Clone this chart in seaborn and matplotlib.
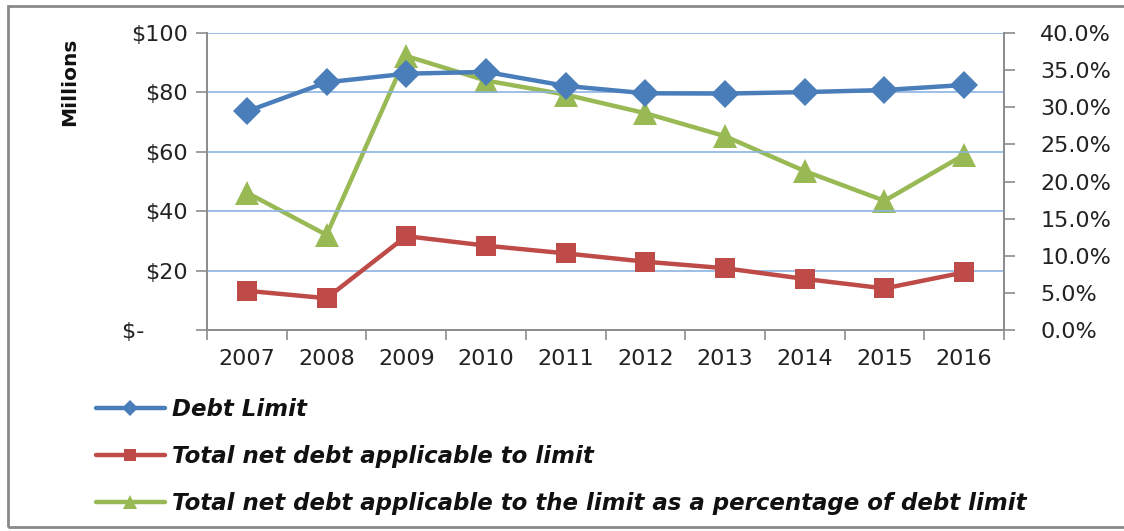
import matplotlib
matplotlib.use("Agg")
import matplotlib.pyplot as plt
import seaborn as sns
import pandas as pd
import numpy as np
from matplotlib.patches import Rectangle
from matplotlib.ticker import FixedLocator, FuncFormatter

years = ["2007", "2008", "2009", "2010", "2011", "2012", "2013", "2014", "2015", "2016"]
debt_limit = [73.6, 83.4, 86.3, 86.9, 82.2, 79.7, 79.6, 80.1, 80.8, 82.5]
net_debt = [13.2, 10.7, 31.6, 28.4, 25.8, 23.0, 20.8, 17.2, 14.0, 19.4]
pct_of_limit = [18.5, 12.8, 36.9, 33.6, 31.7, 29.2, 26.1, 21.4, 17.4, 23.6]

left_ticks = [0, 20, 40, 60, 80, 100]
left_labels = ["$-      ", "$20", "$40", "$60", "$80", "$100"]
right_ticks = [0, 5, 10, 15, 20, 25, 30, 35, 40]

labels = ["Debt Limit",
          "Total net debt applicable to limit",
          "Total net debt applicable to the limit as a percentage of debt limit"]

BLUE = "#4A7EBB"
RED = "#BE4B48"
GREEN = "#98B954"
GRID = "#8DB3E2"
AXIS = "#8C8C8C"

sns.set_theme(style="white")
plt.rcParams["font.family"] = ["DejaVu Sans"]

df = pd.DataFrame({
    "pos": np.arange(len(years)),
    "year": years,
    "debt_limit": debt_limit,
    "net_debt": net_debt,
    "pct": pct_of_limit,
})

fig = plt.figure(figsize=(11.24, 5.31), dpi=100)
ax = fig.add_axes([207 / 1124, 1 - 330 / 531, (1004 - 207) / 1124, (330 - 33) / 531])
ax2 = ax.twinx()

sns.lineplot(data=df, x="pos", y="debt_limit", ax=ax, color=BLUE, lw=3.2,
             marker="D", markersize=14, markeredgewidth=0, label=labels[0], legend=False)
sns.lineplot(data=df, x="pos", y="net_debt", ax=ax, color=RED, lw=3.2,
             marker="s", markersize=15, markeredgewidth=0, label=labels[1], legend=False)
sns.lineplot(data=df, x="pos", y="pct", ax=ax2, color=GREEN, lw=3.2,
             marker="^", markersize=17, markeredgewidth=0, label=labels[2], legend=False)

ax.set_zorder(ax2.get_zorder() + 1)
ax.patch.set_visible(False)

ax.set_xlim(-0.5, len(years) - 0.5)
ax.set_ylim(0, 100)
ax2.set_ylim(0, 40)

ax.set_xticks(np.arange(len(years)))
ax.set_xticklabels(years)
ax.xaxis.set_minor_locator(FixedLocator(np.arange(-0.5, len(years), 1.0)))
ax.tick_params(axis="x", which="major", length=0, pad=14, labelsize=16, labelcolor="#222222")
ax.tick_params(axis="x", which="minor", length=7, width=1.2, color=AXIS, direction="out", bottom=True)

ax.set_yticks(left_ticks)
ax.set_yticklabels(left_labels)
ax.tick_params(axis="y", length=8, width=1.2, color=AXIS, direction="out", left=True,
               pad=6, labelsize=16, labelcolor="#222222")

ax2.set_yticks(right_ticks)
ax2.yaxis.set_major_formatter(FuncFormatter(lambda v, p: f"{v:.1f}%"))
ax2.tick_params(axis="y", length=8, width=1.2, color=AXIS, direction="out", right=True,
                pad=18, labelsize=16, labelcolor="#222222")

ax.set_xlabel("")
ax.set_ylabel("")
ax2.set_ylabel("")

ax.yaxis.grid(True, color=GRID, lw=1.2)
ax.set_axisbelow(True)
ax2.grid(False)

for a in (ax, ax2):
    a.spines["top"].set_visible(False)
    for s in ("left", "right", "bottom"):
        a.spines[s].set_color(AXIS)
        a.spines[s].set_linewidth(1.3)

fig.text(70 / 1124, 1 - 82 / 531, "Millions", rotation=90, ha="center", va="center",
         fontsize=14.5, fontweight="bold", color="#111111")

h1, l1 = ax.get_legend_handles_labels()
h2, l2 = ax2.get_legend_handles_labels()
leg = fig.legend(h1 + h2, l1 + l2, loc="upper left", bbox_to_anchor=(96 / 1124, 1 - 398 / 531),
                 frameon=False, fontsize=16.5, handlelength=3.0, handletextpad=0.3,
                 labelspacing=1.05, markerscale=0.6, borderpad=0, borderaxespad=0)
for t in leg.get_texts():
    t.set_fontweight("bold")
    t.set_fontstyle("italic")
    t.set_color("#111111")

fig.patches.append(Rectangle((8 / 1124, 1 - 527 / 531), 1.2, (527 - 6) / 531,
                             transform=fig.transFigure, fill=False, edgecolor="#8A8A8A",
                             lw=2, clip_on=False))

fig.savefig("out.png", dpi=100)
